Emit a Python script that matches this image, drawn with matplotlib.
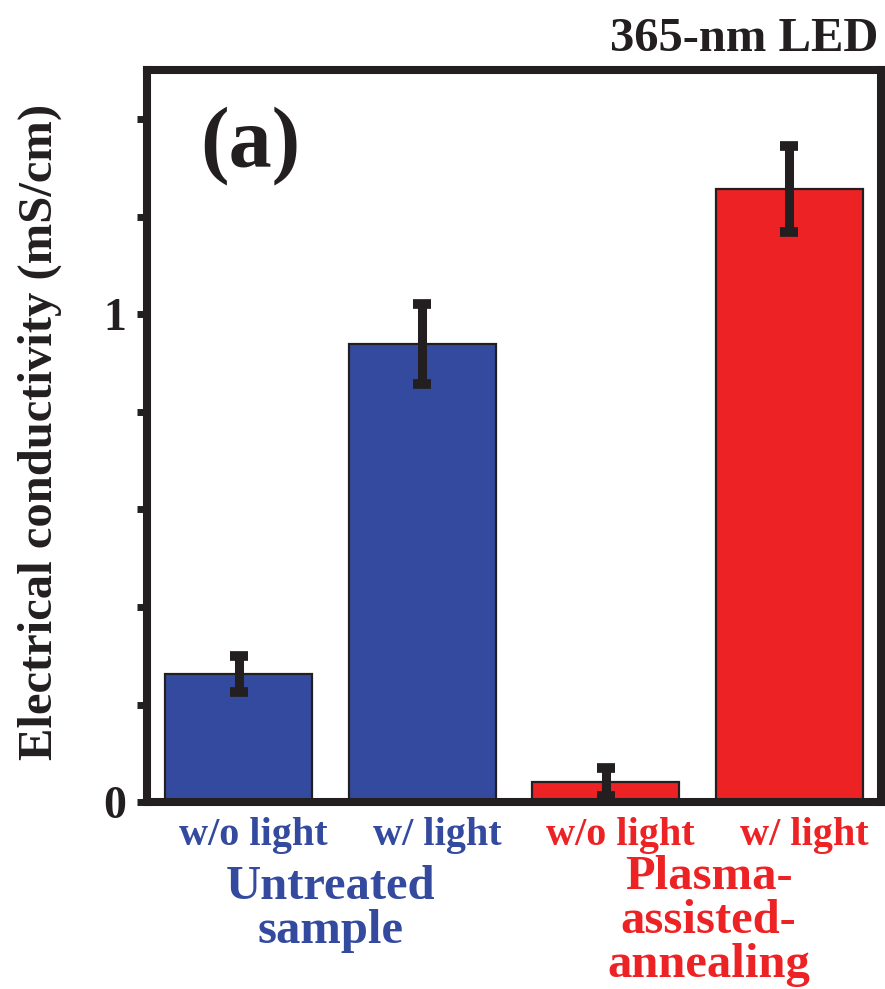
import numpy as np
import matplotlib.pyplot as plt
from matplotlib.transforms import offset_copy

plt.rcParams['font.family'] = ['Liberation Serif', 'DejaVu Serif']
plt.rcParams['font.weight'] = 'bold'

# conductivity in mS/cm, mean and error
conditions = ['w/o light', 'w/ light', 'w/o light', 'w/ light']
conductivity = [0.263, 0.939, 0.042, 1.256]
errors = [0.036, 0.082, 0.028, 0.088]
groups = ['Untreated\nsample', 'Plasma-\nassisted-\nannealing']

blue = '#344A9E'
red = '#ED2224'
dark = '#231F20'
bar_colors = [blue, blue, red, red]
group_colors = [blue, red]
group_x = [0.5, 2.56]
# baseline of the last line of each group label, in axes fraction
group_y = [-0.192, -0.238]

fig = plt.figure(figsize=(8.85, 9.89), dpi=100)
ax = fig.add_axes([0.1661, 0.1886, 0.8294, 0.7406])

x = np.arange(len(conductivity))
ax.bar(x, conductivity, width=0.8, color=bar_colors, edgecolor=dark,
       linewidth=1.6, zorder=2)
ax.errorbar(x, conductivity, yerr=errors, fmt='none', ecolor=dark,
            elinewidth=6.5, capsize=6.5, capthick=7, zorder=3)

ax.set_xlim(-0.5, 3.5)
ax.set_ylim(0, 1.5)

for s in ax.spines.values():
    s.set_linewidth(5.8)
    s.set_color(dark)

ax.set_xticks([])
yt = np.arange(0, 1.41, 0.2)
ax.set_yticks(yt)
ax.set_yticklabels(['0' if abs(v) < 1e-9 else ('1' if abs(v - 1) < 1e-9 else '') for v in yt])
ax.tick_params(axis='y', direction='out', length=7, width=5, color=dark,
               labelsize=33, pad=8, labelcolor=dark)

# condition labels under each bar, nudged a little to the right
xt = ax.get_xaxis_transform()
xt_shift = offset_copy(xt, fig=fig, x=15, y=0, units='dots')
for xi, lab, c in zip(x, conditions, bar_colors):
    ax.text(xi, -0.058, lab, transform=xt_shift, ha='center', va='baseline',
            fontsize=29, fontweight='bold', color=c)

# sample group labels
for gx, gy, g, c in zip(group_x, group_y, groups, group_colors):
    ax.text(gx, gy, g, transform=xt, ha='center', va='baseline',
            fontsize=35, fontweight='bold', color=c, linespacing=1.0,
            multialignment='center')

ax.text(0.072, 0.869, '(a)', transform=ax.transAxes, ha='left',
        va='baseline', fontsize=62, fontweight='bold', color=dark)

fig.text(40 / 885, 1 - 432 / 989, 'Electrical conductivity (mS/cm)',
         rotation=90, ha='center', va='center', fontsize=35,
         fontweight='bold', color=dark)
fig.text(878 / 885, 1 - 51 / 989, '365-nm LED', ha='right', va='baseline',
         fontsize=35, fontweight='bold', color=dark)

fig.savefig('out.png', dpi=100)
